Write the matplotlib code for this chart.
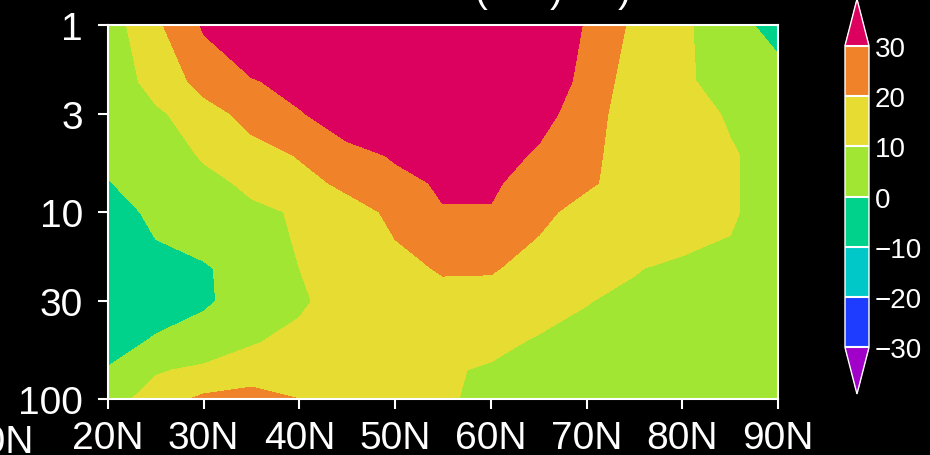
import numpy as np
import matplotlib
matplotlib.use("Agg")
import matplotlib.pyplot as plt
from matplotlib.colors import ListedColormap, BoundaryNorm
from matplotlib.ticker import NullLocator

# latitude (deg N) and pressure levels (hPa)
lats = [20, 25, 30, 35, 40, 45, 50, 55, 60, 65, 70, 75, 80, 85, 90]
levs = [1, 2, 3, 5, 7, 10, 20, 30, 50, 70, 100]

# field values, one row per pressure level
u_1 = [5, 18, 31, 40, 45, 46, 46, 46, 45, 40, 29, 18, 12, 3, -3]
u_2 = [3, 14, 23, 29, 34, 40, 42, 42, 42, 37, 27, 15, 12, 5, 4]
u_3 = [1, 8, 16, 23, 29, 36, 40, 40, 40, 34, 24, 15, 14, 9, 4]
u_5 = [1, 4, 11, 16, 20.5, 26, 31, 36, 36, 28, 21.5, 17, 15, 11, 6]
u_7 = [-0.3, 3, 7, 12, 17, 22, 27, 31.3, 31.3, 26, 21, 17, 15, 11, 6]
u_10 = [-4, 2, 5, 8, 11, 16, 22, 29.4, 29.4, 22, 17, 16, 15, 11, 6]
u_20 = [-5, -3, -1, 4, 10, 15, 17, 21, 21, 16, 12, 10.5, 8, 8, 6]
u_30 = [-5, -3, -1, 3, 9, 13, 15, 16, 15, 13, 10.3, 8, 6, 6, 5]
u_50 = [-3, 1, 4, 9.5, 12, 14, 14, 14, 12, 9, 7, 6, 5, 5, 5]
u_70 = [0.5, 9, 12, 14, 15, 14, 13, 11, 9, 7, 5, 4, 4, 4, 4]
u_100 = [5, 15, 22, 25, 20, 17, 14, 11, 8, 6, 5, 4, 4, 4, 4]

clevs = [-30, -20, -10, 0, 10, 20, 30]
yticks = [1, 3, 10, 30, 100]
xticks = [20, 30, 40, 50, 60, 70, 80, 90]
xticklabels = ['20N', '30N', '40N', '50N', '60N', '70N', '80N', '90N']

field = np.array([u_1, u_2, u_3, u_5, u_7, u_10, u_20, u_30, u_50, u_70, u_100])

# grads-like shading colours
cols = ['#1e3cff', '#00c8c8', '#00d28c', '#a0e632', '#e6dc32', '#f0822a']
cmap = ListedColormap(cols)
cmap.set_under('#a000c8')
cmap.set_over('#dc005f')
norm = BoundaryNorm(clevs, cmap.N)

plt.rcParams['font.family'] = ['Liberation Sans', 'DejaVu Sans']

fig = plt.figure(figsize=(9.3, 4.56), dpi=100, facecolor='black')
ax = fig.add_axes([0.1161, 0.1228, 0.7205, 0.8202])
ax.set_facecolor('black')

cf = ax.contourf(lats, levs, field, levels=clevs, cmap=cmap, norm=norm, extend='both')

ax.set_yscale('log')
ax.set_ylim(100, 1)
ax.set_xlim(20, 90)
ax.set_yticks(yticks)
ax.set_yticklabels([str(v) for v in yticks])
ax.yaxis.set_minor_locator(NullLocator())
ax.set_xticks(xticks)
ax.set_xticklabels(xticklabels)
ax.tick_params(colors='white', labelcolor='white', width=1.5, length=7, labelsize=28)
ax.tick_params(axis='y', pad=11)
ax.tick_params(axis='x', pad=8)
for s in ax.spines.values():
    s.set_color('white')
    s.set_linewidth(1.5)

# cut-off label at the left edge
fig.text(33 / 930, 3 / 456, '10N', color='white', fontsize=28, ha='right', va='baseline')

# bits of the title that peek in at the top
for ch, xp in [('(', 481), (')', 556), (')', 624)]:
    fig.text(xp / 930, 1 - 2 / 456, ch, color='white', fontsize=28, ha='center', va='baseline')

cax = fig.add_axes([0.9086, 0.1338, 0.0258, 0.866])
cb = fig.colorbar(cf, cax=cax, ticks=clevs, extendfrac=0.154, drawedges=True)
cb.outline.set_edgecolor('white')
cb.outline.set_linewidth(1)
cb.dividers.set_color('white')
cb.dividers.set_linewidth(1.5)
cax.tick_params(length=0, pad=4, labelsize=20, labelcolor='white')

fig.savefig('out.png', dpi=100, facecolor='black')
